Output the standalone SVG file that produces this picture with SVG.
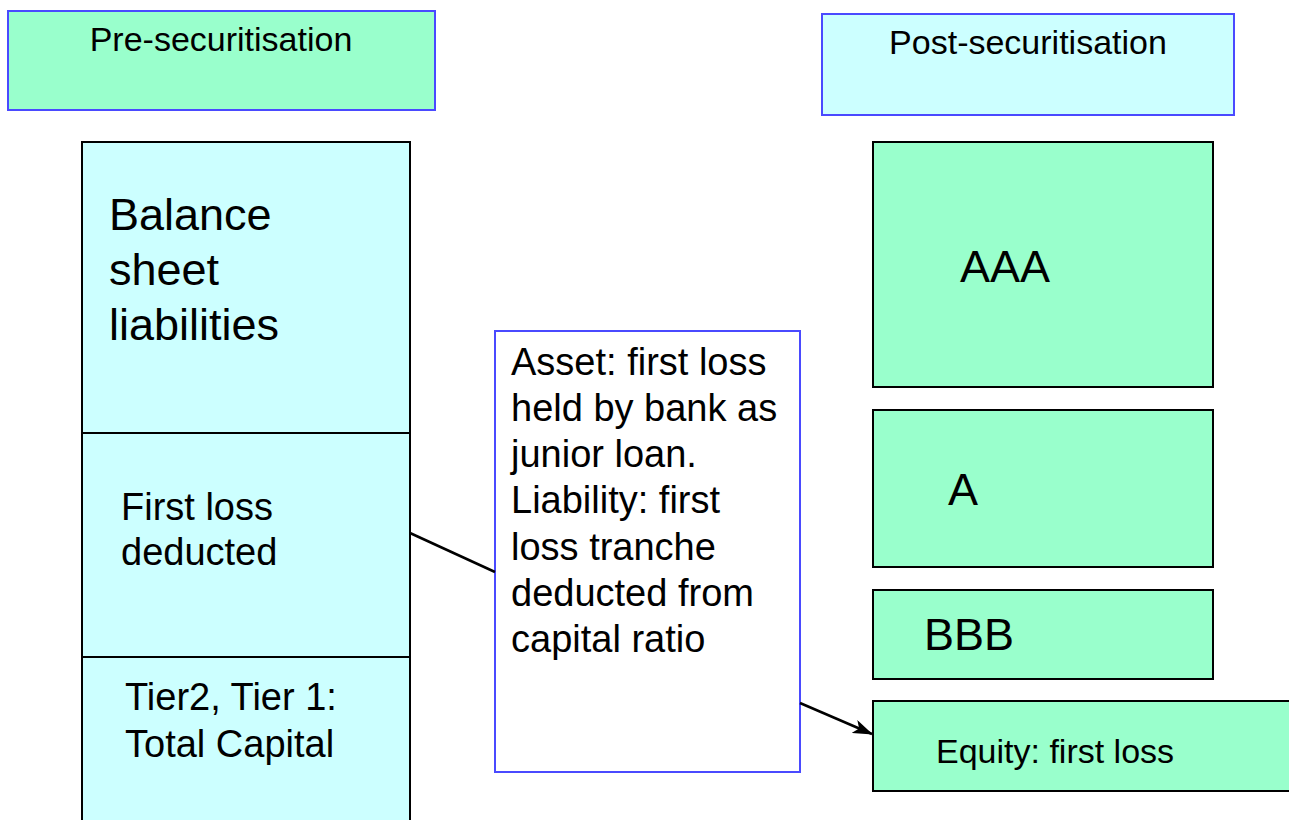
<svg xmlns="http://www.w3.org/2000/svg" width="1289" height="820" viewBox="0 0 1289 820">
<style>
text{font-family:"Liberation Sans",Arial,sans-serif;fill:#000}
.green{fill:#99FFCC;stroke:#000;stroke-width:2}
.cyan{fill:#CCFFFF;stroke:#000;stroke-width:2}
.blue{stroke:#4A4AFF;stroke-width:2}
.conn{stroke:#000;stroke-width:2.5;fill:none}
</style>
<defs>
<marker id="arrow" markerWidth="20" markerHeight="14" refX="19" refY="7" orient="auto" markerUnits="userSpaceOnUse">
<path d="M0,0 L20,7 L0,14 L5,7 Z" fill="#000"/>
</marker>
</defs>
<rect width="1289" height="820" fill="#fff"/>
<g id="pre-header">
<rect x="8" y="11" width="427" height="99" fill="#99FFCC" class="blue"/>
<text x="221" y="51" font-size="34" text-anchor="middle">Pre-securitisation</text>
</g>
<g id="post-header">
<rect x="822" y="14" width="412" height="101" fill="#CCFFFF" class="blue"/>
<text x="1028" y="54" font-size="34" text-anchor="middle">Post-securitisation</text>
</g>
<g id="balance-sheet">
<rect x="82" y="142" width="328" height="291" class="cyan"/>
<text font-size="45"><tspan x="109" y="230">Balance</tspan><tspan x="109" y="285">sheet</tspan><tspan x="109" y="340">liabilities</tspan></text>
</g>
<g id="first-loss-deducted">
<rect x="82" y="433" width="328" height="224" class="cyan"/>
<text font-size="38"><tspan x="121" y="520">First loss</tspan><tspan x="121" y="565">deducted</tspan></text>
</g>
<g id="total-capital">
<rect x="82" y="657" width="328" height="180" class="cyan"/>
<text font-size="38"><tspan x="125" y="710">Tier2, Tier 1:</tspan><tspan x="125" y="757">Total Capital</tspan></text>
</g>
<g id="note">
<rect x="495" y="331" width="305" height="441" fill="#fff" class="blue"/>
<text font-size="38"><tspan x="511" y="375">Asset: first loss</tspan><tspan x="511" y="421">held by bank as</tspan><tspan x="511" y="467">junior loan.</tspan><tspan x="511" y="513">Liability: first</tspan><tspan x="511" y="560">loss tranche</tspan><tspan x="511" y="606">deducted from</tspan><tspan x="511" y="652">capital ratio</tspan></text>
</g>
<g id="aaa">
<rect x="873" y="142" width="340" height="245" class="green"/>
<text x="960" y="282" font-size="45">AAA</text>
</g>
<g id="a">
<rect x="873" y="410" width="340" height="157" class="green"/>
<text x="948" y="505" font-size="45">A</text>
</g>
<g id="bbb">
<rect x="873" y="590" width="340" height="89" class="green"/>
<text x="924" y="650" font-size="45">BBB</text>
</g>
<g id="equity">
<rect x="873" y="701" width="430" height="90" class="green"/>
<text x="936" y="763" font-size="34">Equity: first loss</text>
</g>
<g id="connectors">
<line x1="410" y1="533" x2="495" y2="572" class="conn"/>
<line x1="800" y1="703" x2="872" y2="734" class="conn" marker-end="url(#arrow)"/>
</g>
</svg>
